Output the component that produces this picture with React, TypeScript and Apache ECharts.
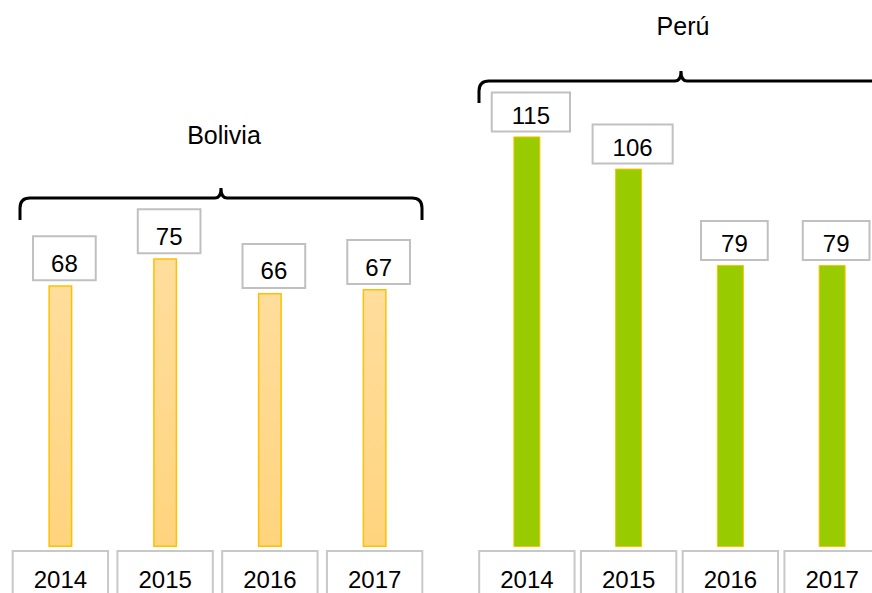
import React, { useEffect, useRef } from "react";
import * as echarts from "echarts";

const years = ["2014", "2015", "2016", "2017"];
const boliviaValues = [68, 75, 66, 67];
const peruValues = [115, 106, 79, 79];
const groupNames = ["Bolivia", "Perú"];

const FONT = "'Liberation Sans', Arial, sans-serif";

function bracePath(w: number, h: number) {
  const m = w / 2;
  const r = 10;
  return `M0 ${h} L0 ${h - 12} Q0 ${h - 22} ${r} ${h - 22} L${m - 6} ${h - 22} Q${m} ${h - 22} ${m} ${h - 32} Q${m} ${h - 22} ${m + 6} ${h - 22} L${w - r} ${h - 22} Q${w} ${h - 22} ${w} ${h - 12} L${w} ${h}`;
}

export default function App() {
  const ref = useRef<HTMLDivElement>(null);
  useEffect(() => {
    if (!ref.current) return;
    echarts.graphic.registerShape(
      "braceB",
      echarts.graphic.extendPath(bracePath(402, 44), {})
    );
    echarts.graphic.registerShape(
      "braceP",
      echarts.graphic.extendPath(bracePath(404, 41), {})
    );
    const chart = echarts.init(ref.current, null, { renderer: "svg" });

    const labelBox = (padding: number[]) => ({
      show: true,
      position: "top" as const,
      distance: 6,
      offset: [4, 0],
      fontFamily: FONT,
      fontSize: 24,
      color: "#000",
      backgroundColor: "#fff",
      borderColor: "#c0c0c0",
      borderWidth: 2,
      padding,
    });

    const xAxisLabel = {
      fontFamily: FONT,
      fontSize: 24,
      color: "#000",
      backgroundColor: "#fff",
      borderColor: "#c8c8c8",
      borderWidth: 2,
      padding: [15, 20, 20, 20],
      margin: 5,
      interval: 0,
    };

    chart.setOption({
      animation: false,
      grid: [
        { left: 8, width: 419, bottom: 46, height: 385, outerBoundsMode: "none", containLabel: false },
        { left: 476, width: 407, bottom: 46, height: 432, outerBoundsMode: "none", containLabel: false },
      ],
      xAxis: [
        {
          gridIndex: 0,
          type: "category",
          data: years,
          axisLine: { show: false },
          axisTick: { show: false },
          axisLabel: xAxisLabel,
        },
        {
          gridIndex: 1,
          type: "category",
          data: years,
          axisLine: { show: false },
          axisTick: { show: false },
          axisLabel: xAxisLabel,
        },
      ],
      yAxis: [
        { gridIndex: 0, type: "value", min: 0, max: 100, show: false, splitLine: { show: false } },
        { gridIndex: 1, type: "value", min: 0, max: 121, show: false, splitLine: { show: false } },
      ],
      series: [
        {
          name: groupNames[0],
          type: "bar",
          xAxisIndex: 0,
          yAxisIndex: 0,
          data: boliviaValues,
          barWidth: 24,
          itemStyle: {
            color: new echarts.graphic.LinearGradient(0, 0, 0, 1, [
              { offset: 0, color: "#FFDD9C" },
              { offset: 1, color: "#FFD47E" },
            ]),
            borderColor: "#FFC000",
            borderWidth: 1.5,
          },
          label: labelBox([14, 17, 4, 17]),
        },
        {
          name: groupNames[1],
          type: "bar",
          xAxisIndex: 1,
          yAxisIndex: 1,
          data: peruValues,
          barWidth: 27,
          itemStyle: {
            color: "#99CC00",
            borderColor: "#FFC000",
            borderWidth: 1,
          },
          label: labelBox([10, 19, 3, 19]),
        },
      ],
      graphic: [
        {
          type: "text",
          x: 224,
          y: 135,
          style: {
            text: groupNames[0],
            font: `25px ${FONT}`,
            fill: "#000",
            textAlign: "center",
            textVerticalAlign: "middle",
          },
        },
        {
          type: "text",
          x: 683,
          y: 26,
          style: {
            text: groupNames[1],
            font: `25px ${FONT}`,
            fill: "#000",
            textAlign: "center",
            textVerticalAlign: "middle",
          },
        },
        {
          type: "braceB",
          x: 20,
          y: 176,
          style: { stroke: "#000", lineWidth: 3, fill: null },
        },
        {
          type: "braceP",
          x: 479,
          y: 62,
          style: { stroke: "#000", lineWidth: 3, fill: null },
        },
      ],
    });
    return () => chart.dispose();
  }, []);
  return <div ref={ref} style={{ width: 872, height: 593, position: "absolute", left: 0, top: 0 }} />;
}
